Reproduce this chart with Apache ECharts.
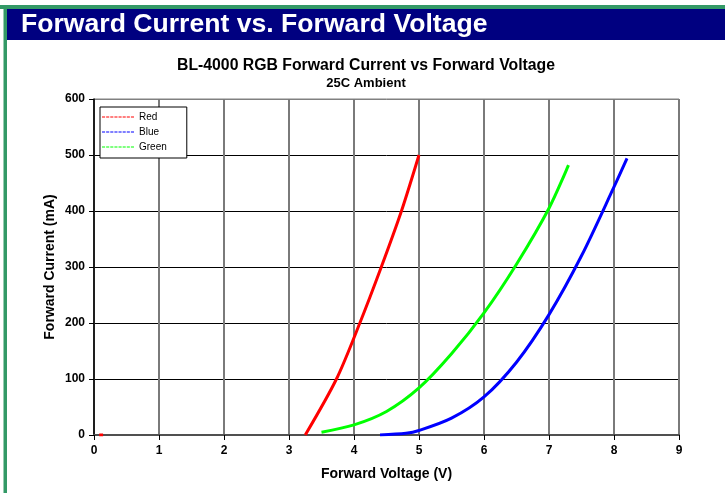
<!DOCTYPE html>
<html>
<head>
<meta charset="utf-8">
<script src="https://cdn.jsdelivr.net/npm/echarts@6/dist/echarts.min.js"></script>
<style>
html,body{margin:0;padding:0;background:#fff;}
#chart{width:725px;height:493px;}
</style>
</head>
<body>
<div id="chart"></div>
<script>
// ---- data ----
const pageTitle = 'Forward Current vs. Forward Voltage';
const chartTitle = 'BL-4000 RGB Forward Current vs Forward Voltage';
const chartSubtitle = '25C Ambient';
const xAxisName = 'Forward Voltage (V)';
const yAxisName = 'Forward Current (mA)';
const seriesNames = ['Red', 'Blue', 'Green'];

const redVoltage   = [0.08, 0.14, '-', 3.25, 3.73, 4.09, 4.42, 4.73, 5.0];
const redCurrent   = [0, 0, '-', 0, 100, 200, 300, 400, 500];
const blueVoltage  = [4.4, 4.8, 5.0, 5.5, 6.0, 6.5, 7.0, 7.5, 8.0, 8.2];
const blueCurrent  = [0, 3, 8, 30, 68, 130, 215, 320, 443, 494];
const greenVoltage = [3.5, 4.0, 4.5, 5.0, 5.5, 6.0, 6.5, 7.0, 7.3];
const greenCurrent = [5, 18, 42, 84, 145, 218, 305, 405, 482];

const xTicks = [0, 1, 2, 3, 4, 5, 6, 7, 8, 9];
const yTicks = [0, 100, 200, 300, 400, 500, 600];

// ---- build ----
function pairs(xs, ys) { return xs.map((x, i) => (x === '-' ? ['-', '-'] : [x, ys[i]])); }

// dashed line legend icon (style only)
let dashPath = 'path://';
for (let s = 0; s < 32; s += 4) {
  dashPath += 'M' + s + ',0L' + (s + 3) + ',0L' + (s + 3) + ',1.2L' + s + ',1.2Z';
}

const FONT = '"Liberation Sans", Arial, Helvetica, sans-serif';
const chart = echarts.init(document.getElementById('chart'), null, { renderer: 'canvas' });

const yLineColors = yTicks.map((t, i) => (i === yTicks.length - 1 ? '#808080' : '#000000'));

const option = {
  backgroundColor: '#ffffff',
  animation: false,
  textStyle: { fontFamily: FONT },
  graphic: [
    { type: 'rect', shape: { x: 0, y: 5, width: 725, height: 4 }, style: { fill: '#339966' }, silent: true },
    { type: 'rect', shape: { x: 3.5, y: 5, width: 3.5, height: 488 }, style: { fill: '#339966' }, silent: true },
    { type: 'rect', shape: { x: 7, y: 9, width: 718, height: 31 }, style: { fill: '#000080' }, silent: true },
    { type: 'text', x: 21, y: 25, style: { text: pageTitle, fill: '#ffffff', font: 'bold 26.6px ' + FONT, verticalAlign: 'middle', align: 'left' }, silent: true }
  ],
  title: [
    { text: chartTitle, left: 366, top: 58, textAlign: 'center', padding: 0,
      textStyle: { fontFamily: FONT, fontSize: 15.8, fontWeight: 'bold', color: '#000' } },
    { text: chartSubtitle, left: 366, top: 77, textAlign: 'center', padding: 0,
      textStyle: { fontFamily: FONT, fontSize: 13, fontWeight: 'bold', color: '#000' } }
  ],
  legend: {
    data: seriesNames,
    orient: 'vertical',
    left: 100, top: 107,
    backgroundColor: '#ffffff',
    borderColor: '#000000', borderWidth: 1,
    padding: [5, 20, 6, 2],
    icon: dashPath,
    itemWidth: 32, itemHeight: 10, itemGap: 5,
    textStyle: { fontFamily: FONT, fontSize: 10, color: '#000' },
    selectedMode: false
  },
  grid: { left: 94, right: 46, top: 99, bottom: 58, show: true, borderColor: '#808080', borderWidth: 1, backgroundColor: '#fff' },
  xAxis: {
    type: 'value', min: xTicks[0], max: xTicks[xTicks.length - 1], interval: 1,
    name: xAxisName, nameLocation: 'middle', nameGap: 32, nameMoveOverlap: false,
    nameTextStyle: { fontFamily: FONT, fontSize: 14, fontWeight: 'bold', color: '#000' },
    axisLine: { show: true, onZero: false, lineStyle: { color: '#505050', width: 2 } },
    axisTick: { show: true, inside: false, length: 5, lineStyle: { color: '#000', width: 1 } },
    axisLabel: { margin: 10, fontFamily: FONT, fontSize: 12, fontWeight: 'bold', color: '#000' },
    splitLine: { show: true, lineStyle: { color: '#7a7a7a', width: 2 } }
  },
  yAxis: {
    type: 'value', min: yTicks[0], max: yTicks[yTicks.length - 1], interval: 100,
    name: yAxisName, nameLocation: 'middle', nameGap: 37, nameRotate: 90, nameMoveOverlap: false,
    nameTextStyle: { fontFamily: FONT, fontSize: 14, fontWeight: 'bold', color: '#000' },
    axisLine: { show: true, onZero: false, lineStyle: { color: '#000', width: 1.5 } },
    axisTick: { show: true, inside: false, length: 5, lineStyle: { color: '#000', width: 1 } },
    axisLabel: { margin: 9, fontFamily: FONT, fontSize: 12, fontWeight: 'bold', color: '#000' },
    splitLine: { show: true, lineStyle: { color: yLineColors, width: 1 } }
  },
  series: [
    { name: 'Red', type: 'line', data: pairs(redVoltage, redCurrent), smooth: 0.3, showSymbol: false, symbol: 'none',
      connectNulls: false, color: '#ff0000', lineStyle: { color: '#ff0000', width: 3 }, z: 5 },
    { name: 'Blue', type: 'line', data: pairs(blueVoltage, blueCurrent), smooth: 0.3, showSymbol: false, symbol: 'none',
      color: '#0000ff', lineStyle: { color: '#0000ff', width: 3 }, z: 5 },
    { name: 'Green', type: 'line', data: pairs(greenVoltage, greenCurrent), smooth: 0.3, showSymbol: false, symbol: 'none',
      color: '#00ff00', lineStyle: { color: '#00ff00', width: 3 }, z: 5 }
  ]
};
chart.setOption(option);
</script>
</body>
</html>
